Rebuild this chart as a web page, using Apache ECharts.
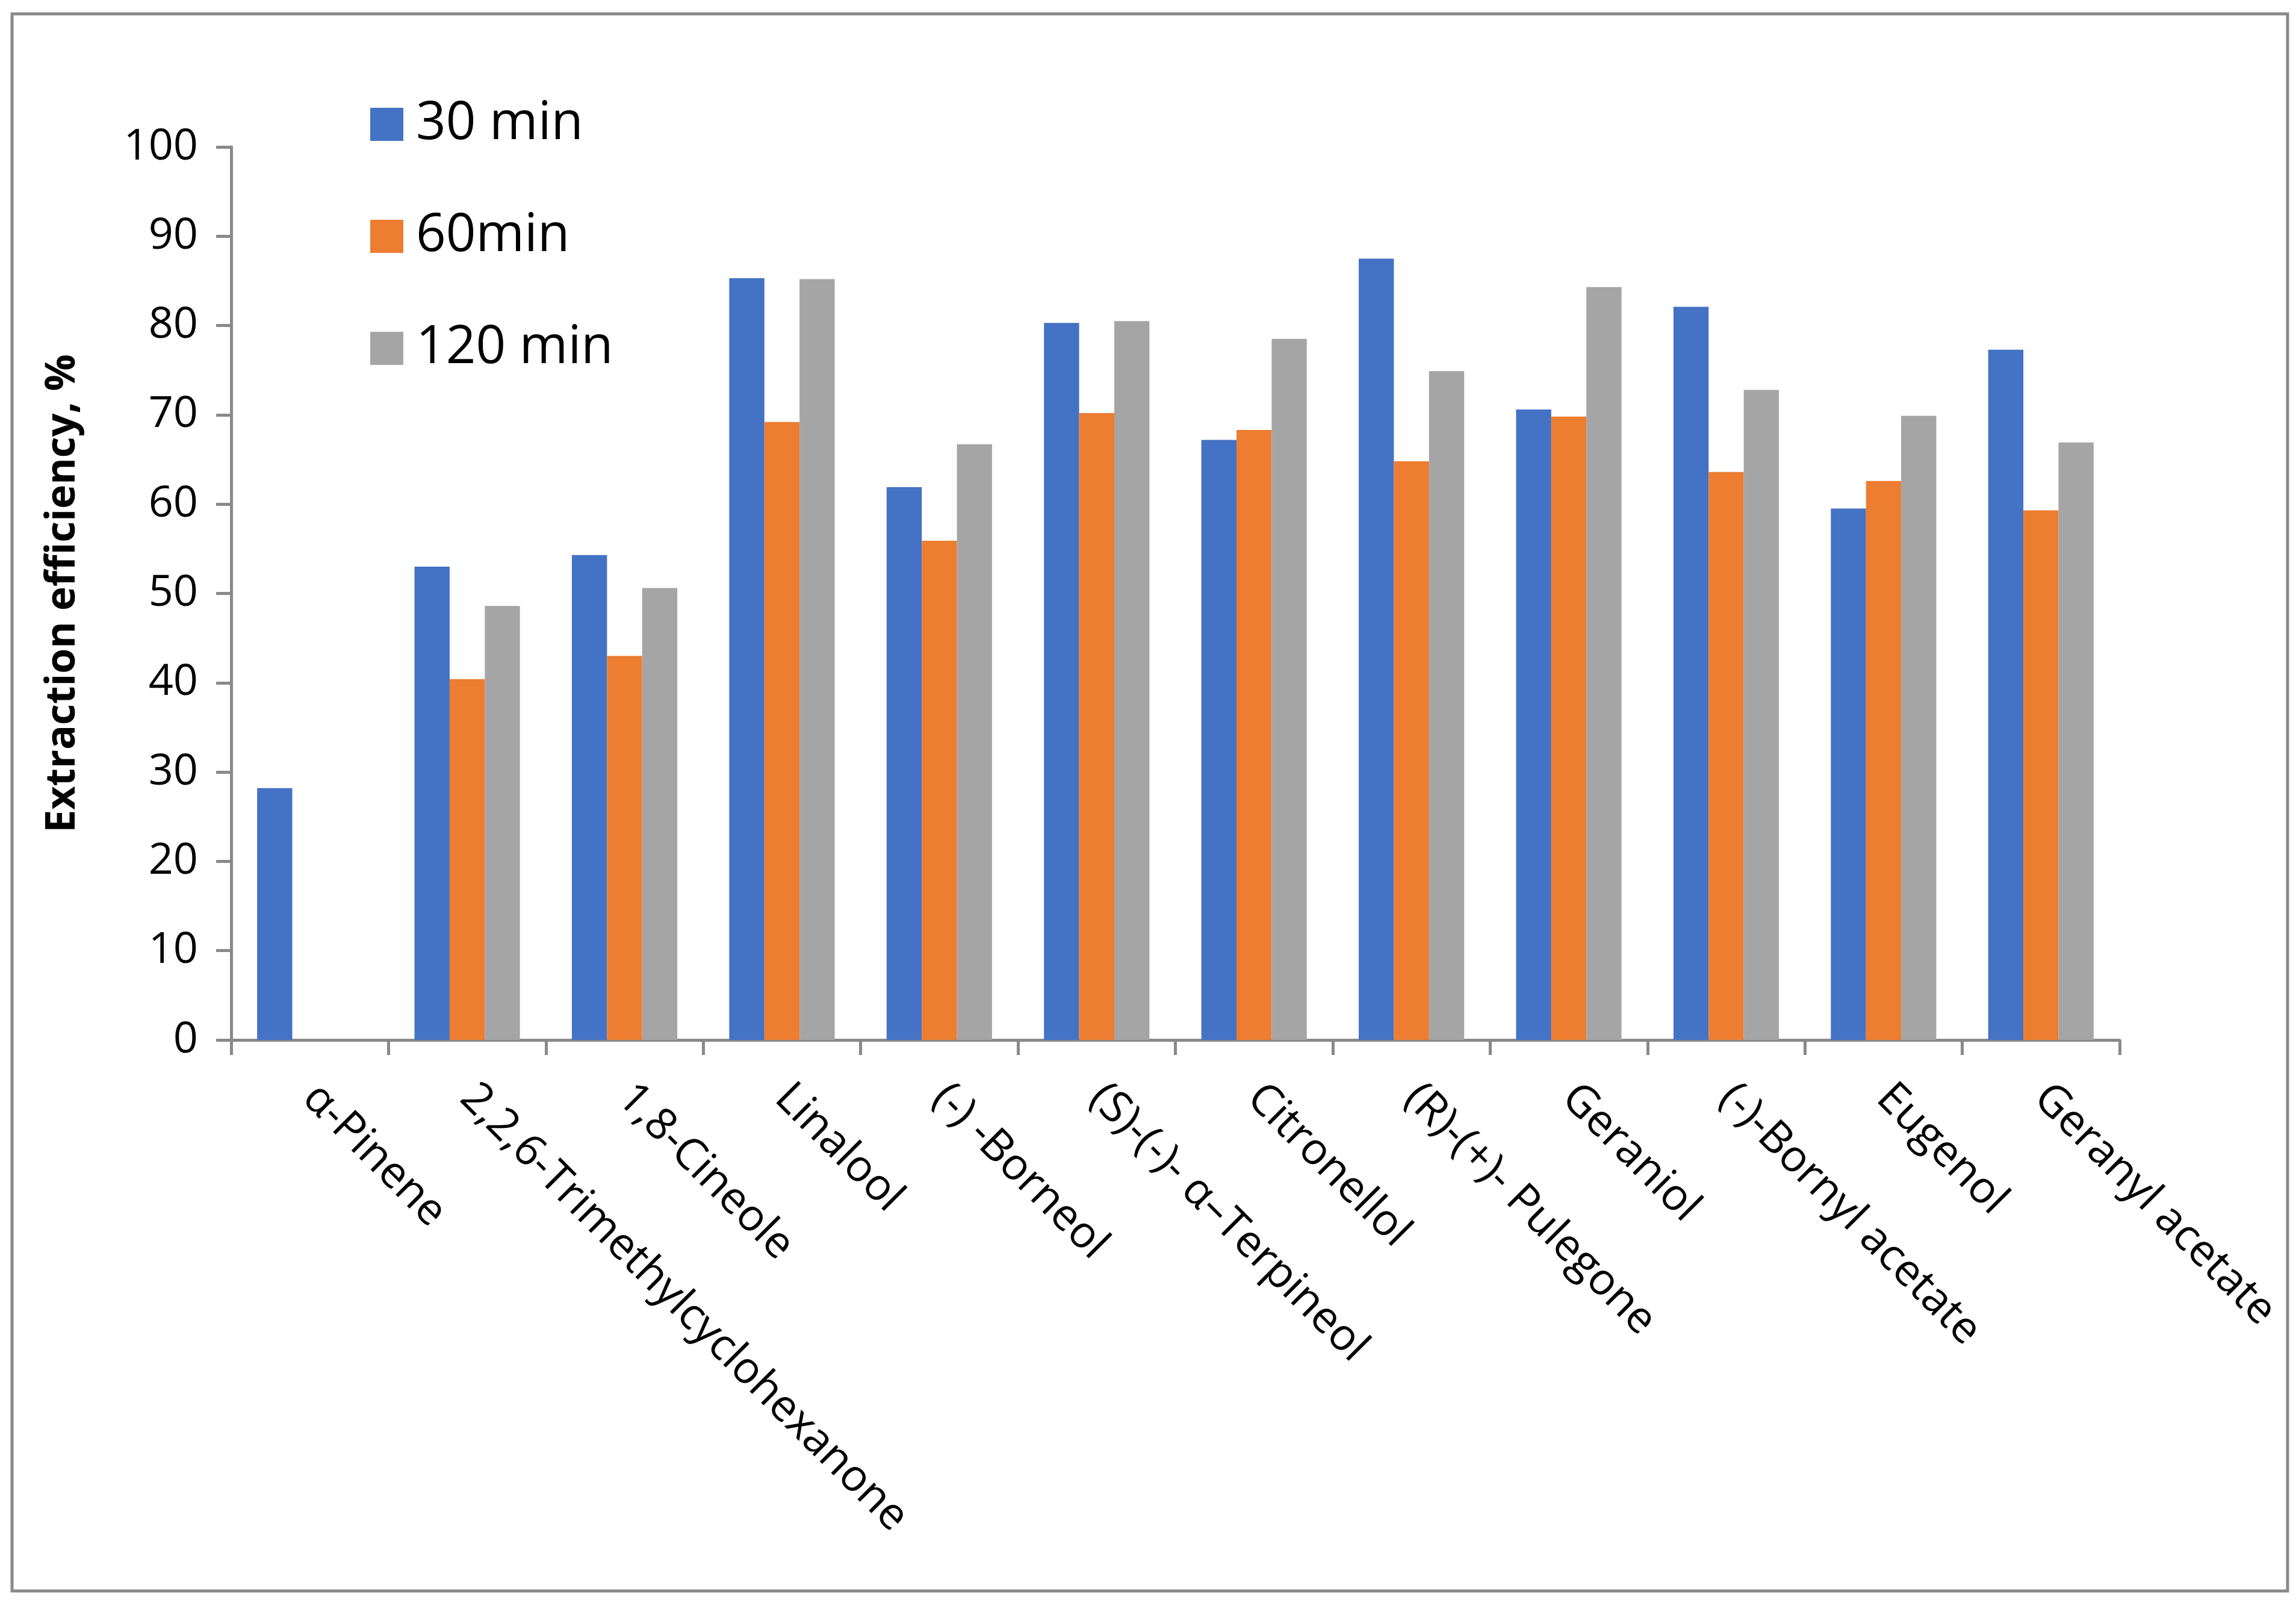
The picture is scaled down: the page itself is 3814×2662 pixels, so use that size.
<!DOCTYPE html>
<html>
<head>
<meta charset="utf-8">
<script src="https://cdn.jsdelivr.net/npm/echarts@6/dist/echarts.min.js"></script>
<style>
html,body{margin:0;padding:0;background:#fff;}
#chart{width:3814px;height:2662px;}
</style>
</head>
<body>
<div id="chart"></div>
<script>
const categories = ["α-Pinene","2,2,6-Trimethylcyclohexanone","1,8-Cineole","Linalool","(-) -Borneol","(S)-(-)- α–Terpineol","Citronellol","(R)-(+)- Pulegone","Geraniol","(-)-Bornyl acetate","Eugenol","Geranyl acetate"];
const seriesNames = ["30 min","60min","120 min"];
const values30 = [28.2, 53.0, 54.3, 85.3, 61.9, 80.3, 67.2, 87.5, 70.6, 82.1, 59.5, 77.3];
const values60 = [null, 40.4, 43.0, 69.2, 55.9, 70.2, 68.3, 64.8, 69.8, 63.6, 62.6, 59.3];
const values120 = [null, 48.6, 50.6, 85.2, 66.7, 80.5, 78.5, 74.9, 84.3, 72.8, 69.9, 66.9];
const yTicks = {min: 0, max: 100, interval: 10};
const colors = ["#4472C4", "#ED7D31", "#A5A5A5"];

const FONT = "'Open Sans', 'Noto Sans', sans-serif";
const AXIS_COLOR = "#898989";
const chart = echarts.init(document.getElementById('chart'));
const allValues = [values30, values60, values120];
chart.setOption({
  backgroundColor: '#fff',
  animation: false,
  color: colors,
  textStyle: {fontFamily: FONT, color: '#000'},
  graphic: [{
    type: 'rect',
    shape: {x: 20, y: 23, width: 3780, height: 2619},
    style: {fill: 'none', stroke: AXIS_COLOR, lineWidth: 5},
    silent: true
  }],
  legend: {
    orient: 'vertical',
    left: 610,
    top: 158,
    itemWidth: 55,
    itemHeight: 55,
    itemGap: 99,
    data: seriesNames,
    icon: 'rect',
    textStyle: {fontSize: 87, fontFamily: FONT, color: '#000', padding: [0,0,0,16]}
  },
  grid: {left: 384, right: 293, top: 244, bottom: 935, containLabel: false},
  xAxis: {
    type: 'category',
    data: categories,
    axisLine: {lineStyle: {color: AXIS_COLOR, width: 5}},
    axisTick: {show: true, length: 25, lineStyle: {color: AXIS_COLOR, width: 5}},
    axisLabel: {rotate: -45, margin: 85, fontSize: 73, fontFamily: FONT, color: '#000', interval: 0}
  },
  yAxis: {
    type: 'value',
    min: yTicks.min, max: yTicks.max, interval: yTicks.interval,
    name: 'Extraction efficiency, %',
    nameLocation: 'middle',
    nameGap: 245,
    nameTextStyle: {fontSize: 68, fontWeight: 'bold', fontFamily: FONT, color: '#000'},
    splitLine: {show: false},
    axisLine: {show: true, lineStyle: {color: AXIS_COLOR, width: 5}},
    axisTick: {show: true, length: 25, lineStyle: {color: AXIS_COLOR, width: 5}},
    axisLabel: {margin: 55, fontSize: 72, fontFamily: FONT, color: '#000'}
  },
  series: seriesNames.map((n, i) => ({
    name: n,
    type: 'bar',
    data: allValues[i],
    barGap: '0%',
    barCategoryGap: '33%',
    itemStyle: {color: colors[i]}
  }))
});
</script>
</body>
</html>
